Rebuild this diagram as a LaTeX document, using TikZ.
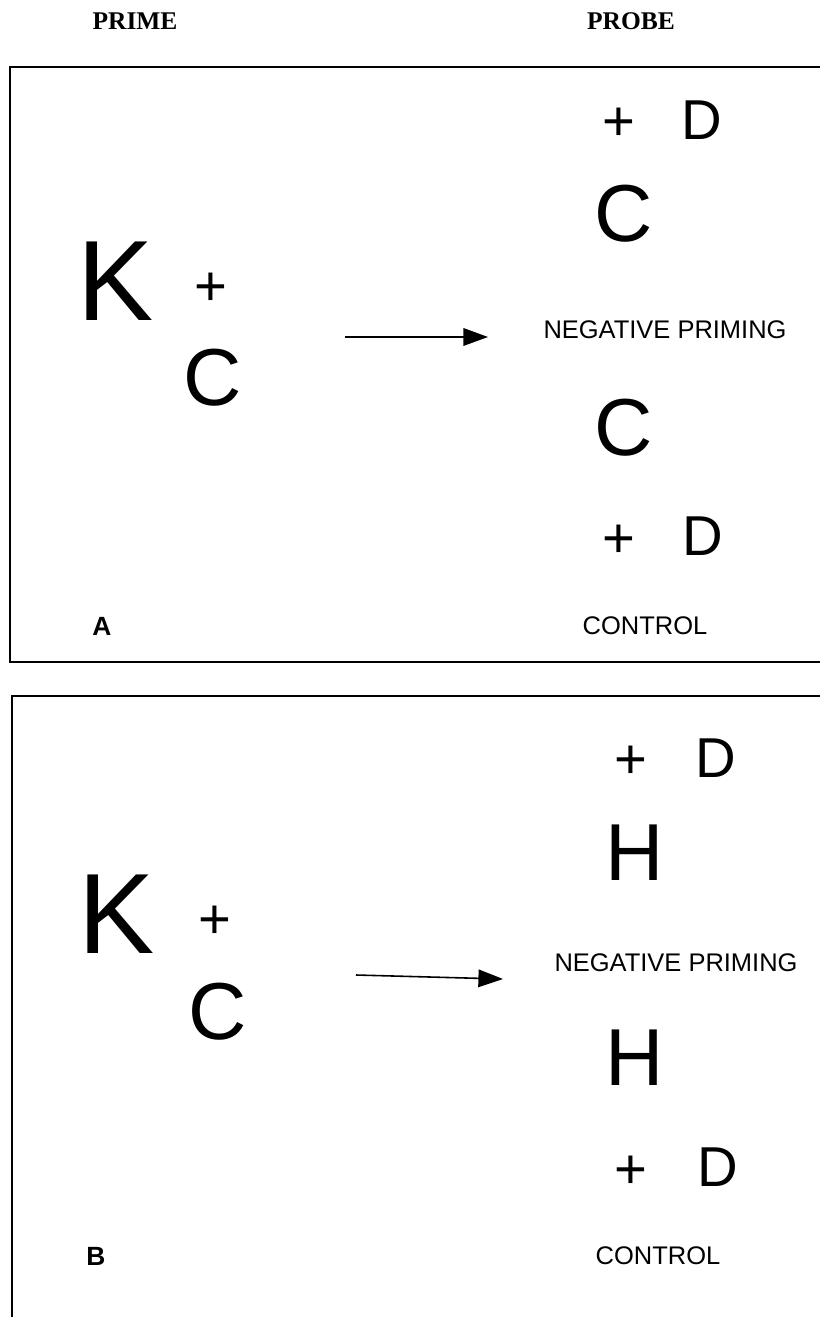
\documentclass[tikz,border=0pt]{standalone}
\usepackage{fontspec}
\setmainfont{Liberation Sans}
\newfontfamily\headfont{Liberation Serif}
\usetikzlibrary{arrows.meta}

\tikzset{
  panelframe/.style={line width=1.4pt},
  headtext/.style={font=\headfont\bfseries\fontsize{14.5}{14.5}\selectfont},
  bigletter/.style={font=\fontsize{65}{65}\selectfont},
  midletter/.style={font=\fontsize{46}{46}\selectfont},
  smallsign/.style={font=\fontsize{32}{32}\selectfont},
  condtext/.style={font=\fontsize{14.5}{14.5}\selectfont},
  paneltag/.style={font=\bfseries\fontsize{15}{15}\selectfont},
  shiftarrow/.style={line width=0.9pt, -{Triangle[length=14pt,width=10pt]}}
}

\begin{document}
\begin{tikzpicture}[x=0.02cm,y=-0.02cm]
\useasboundingbox (0,0) rectangle (820,1317);
\node[headtext] (prime) at (135,21) {PRIME};
\node[headtext] (probe) at (631,21) {PROBE};
% panel A
\draw[panelframe] (830,67) -- (10,67) -- (10,662) -- (830,662);
\node[bigletter] (kA) at (116,281) {K};
\node[smallsign] (fixA) at (211,289) {+};
\node[midletter] (cA) at (213,378) {C};
\coordinate (arrA-from) at (345,337);
\coordinate (arrA-to) at (488,337);
\draw[shiftarrow] (arrA-from) -- (arrA-to);
\node[smallsign] (plusA1) at (619,124) {+};
\node[smallsign] (dA1) at (702,120) {D};
\node[midletter] (cA1) at (624,214) {C};
\node[condtext] (negA) at (665,330) {NEGATIVE PRIMING};
\node[midletter] (cA2) at (624,428) {C};
\node[smallsign] (plusA2) at (619,541) {+};
\node[smallsign] (dA2) at (703,536) {D};
\node[paneltag] (tagA) at (102,626) {A};
\node[condtext] (ctlA) at (645,626) {CONTROL};
% panel B
\draw[panelframe] (830,696) -- (12,696) -- (12,1330);
\node[bigletter] (kB) at (117,914) {K};
\node[smallsign] (fixB) at (215,922) {+};
\node[midletter] (cB) at (218,1012) {C};
\coordinate (arrB-from) at (356,975);
\coordinate (arrB-to) at (503,979);
\draw[shiftarrow] (arrB-from) -- (arrB-to);
\node[smallsign] (plusB1) at (631,762) {+};
\node[smallsign] (dB1) at (716,758) {D};
\node[midletter] (hB1) at (635,853) {H};
\node[condtext] (negB) at (676,963) {NEGATIVE PRIMING};
\node[midletter] (hB2) at (635,1058) {H};
\node[smallsign] (plusB2) at (631,1172) {+};
\node[smallsign] (dB2) at (718,1167) {D};
\node[paneltag] (tagB) at (96,1256) {B};
\node[condtext] (ctlB) at (658,1256) {CONTROL};
\end{tikzpicture}
\end{document}
